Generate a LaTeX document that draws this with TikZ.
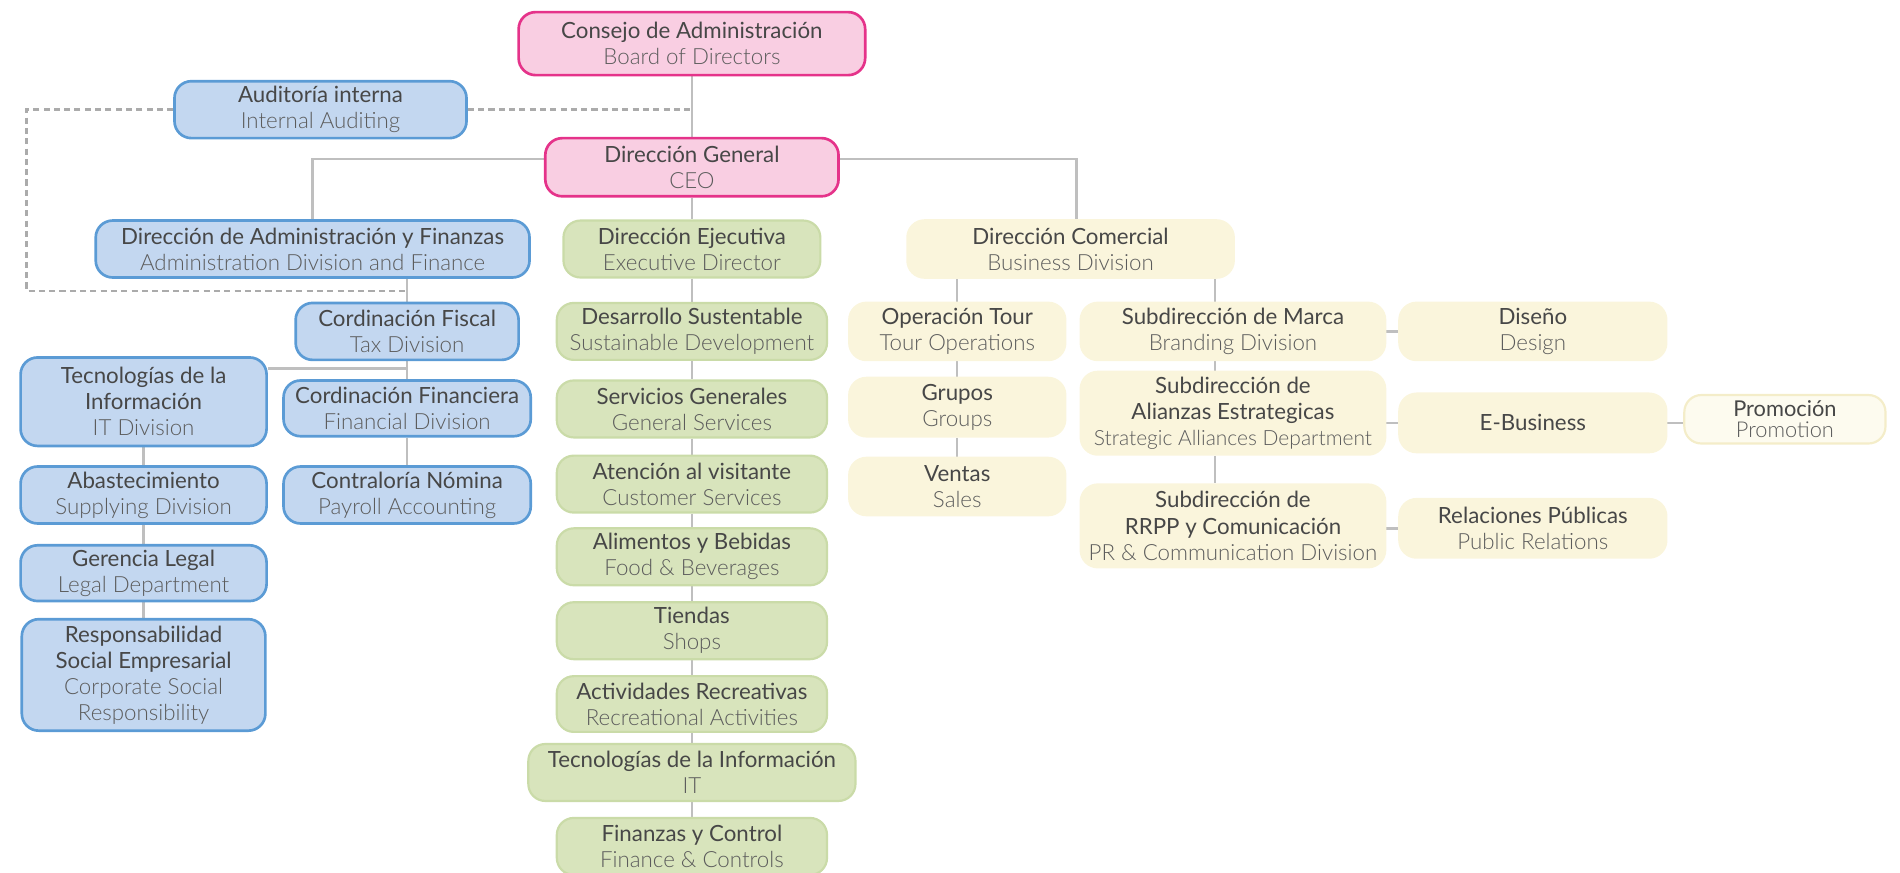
\documentclass[tikz,border=0pt]{standalone}
\usepackage{fontspec}
\setmainfont{Lato}
\newfontfamily\lightfont{Lato Light}
\usetikzlibrary{calc,backgrounds}
\definecolor{pinkfill}{HTML}{F9CEE2}
\definecolor{pinkline}{HTML}{E5338A}
\definecolor{bluefill}{HTML}{C3D7F0}
\definecolor{blueline}{HTML}{5B9BD5}
\definecolor{greenfill}{HTML}{D8E4BC}
\definecolor{greenline}{HTML}{CADBA8}
\definecolor{creamfill}{HTML}{FAF5DC}
\definecolor{promofill}{HTML}{FDFBEF}
\definecolor{promoline}{HTML}{F4EDC9}
\definecolor{connc}{HTML}{BFBFBF}
\definecolor{dashc}{HTML}{ABABAB}
\definecolor{txtone}{HTML}{474747}
\definecolor{txttwo}{HTML}{5C5C5C}
\newcommand\lone[1]{{\color{txtone}#1}}
\newcommand\ltwo[1]{{\lightfont\color{txttwo}#1}}
\newcommand\ltwos[1]{{\lightfont\fontsize{17.3}{21.5}\selectfont\color{txttwo}#1}}
\tikzset{
 box/.style={rounded corners=14pt, inner sep=0pt, align=center, font=\fontsize{18.4}{21.5}\selectfont, line width=2.2pt},
 pinkbox/.style={box, fill=pinkfill, draw=pinkline},
 bluebox/.style={box, fill=bluefill, draw=blueline},
 greenbox/.style={box, fill=greenfill, draw=greenline, line width=1.8pt},
 creambox/.style={box, fill=creamfill, draw=creamfill},
 promobox/.style={box, fill=promofill, draw=promoline, line width=1.8pt, font=\fontsize{18}{17}\selectfont},
 conn/.style={draw=connc, line width=2pt},
 dashline/.style={draw=dashc, line width=2pt, dash pattern=on 5pt off 3.5pt},
}
\begin{document}
\begin{tikzpicture}[x=1pt,y=-1pt]
\useasboundingbox (0,0) rectangle (1568,720);
\clip (0,0) rectangle (1568,720);
% coordinates
\coordinate (dashL) at (22,240);
\coordinate (dashEnd) at (336,240);
\coordinate (techJ) at (336,304);
% nodes
\node[pinkbox, minimum width=286pt, minimum height=52pt] (consejo) at (571,36) {\lone{Consejo de Administración}\\\ltwo{Board of Directors}};
\node[bluebox, minimum width=241pt, minimum height=47pt] (audit) at (264.5,90.5) {\lone{Auditoría interna}\\\ltwo{Internal Auditing}};
\node[pinkbox, minimum width=242pt, minimum height=48pt] (dg) at (571,138) {\lone{Dirección General}\\\ltwo{CEO}};
\node[bluebox, minimum width=358pt, minimum height=47pt] (admin) at (258,205.5) {\lone{Dirección de Administración y Finanzas}\\\ltwo{Administration Division and Finance}};
\node[greenbox, minimum width=212pt, minimum height=47pt] (ejec) at (571,205.5) {\lone{Dirección Ejecutiva}\\\ltwo{Executive Director}};
\node[creambox, minimum width=269pt, minimum height=47pt] (comercial) at (883.5,205.5) {\lone{Dirección Comercial}\\\ltwo{Business Division}};
% blue branch
\node[bluebox, minimum width=184pt, minimum height=47pt] (fiscal) at (336,273.5) {\lone{Cordinación Fiscal}\\\ltwo{Tax Division}};
\node[bluebox, minimum width=204pt, minimum height=46pt] (financiera) at (336,337) {\lone{Cordinación Financiera}\\\ltwo{Financial Division}};
\node[bluebox, minimum width=204pt, minimum height=47pt] (nomina) at (336,408.5) {\lone{Contraloría Nómina}\\\ltwo{Payroll Accounting}};
\node[bluebox, minimum width=203pt, minimum height=73pt] (itb) at (118.5,331.5) {\lone{Tecnologías de la}\\\lone{Información}\\\ltwo{IT Division}};
\node[bluebox, minimum width=203pt, minimum height=47pt] (abast) at (118.5,408.5) {\lone{Abastecimiento}\\\ltwo{Supplying Division}};
\node[bluebox, minimum width=203pt, minimum height=46pt] (legal) at (118.5,473) {\lone{Gerencia Legal}\\\ltwo{Legal Department}};
\node[bluebox, minimum width=201pt, minimum height=92pt] (rse) at (118.5,557) {\lone{Responsabilidad}\\\lone{Social Empresarial}\\\ltwo{Corporate Social}\\\ltwo{Responsibility}};
% green branch
\node[greenbox, minimum width=223pt, minimum height=47pt] (desarrollo) at (571,273.5) {\lone{Desarrollo Sustentable}\\\ltwo{Sustainable Development}};
\node[greenbox, minimum width=223pt, minimum height=47pt] (servicios) at (571,337.5) {\lone{Servicios Generales}\\\ltwo{General Services}};
\node[greenbox, minimum width=223pt, minimum height=47pt] (atencion) at (571,399.5) {\lone{Atención al visitante}\\\ltwo{Customer Services}};
\node[greenbox, minimum width=223pt, minimum height=47pt] (alimentos) at (571,459.5) {\lone{Alimentos y Bebidas}\\\ltwo{Food \& Beverages}};
\node[greenbox, minimum width=223pt, minimum height=47pt] (tiendas) at (571,520.5) {\lone{Tiendas}\\\ltwo{Shops}};
\node[greenbox, minimum width=223pt, minimum height=46pt] (actividades) at (571,581) {\lone{Actividades Recreativas}\\\ltwo{Recreational Activities}};
\node[greenbox, minimum width=270pt, minimum height=47pt] (itg) at (571,637.5) {\lone{Tecnologías de la Información}\\\ltwo{IT}};
\node[greenbox, minimum width=223pt, minimum height=47pt] (finanzas) at (571,698.5) {\lone{Finanzas y Control}\\\ltwo{Finance \& Controls}};
% cream branch
\node[creambox, minimum width=178pt, minimum height=47pt] (optour) at (790,273.5) {\lone{Operación Tour}\\\ltwo{Tour Operations}};
\node[creambox, minimum width=178pt, minimum height=48pt] (grupos) at (790,336) {\lone{Grupos}\\\ltwo{Groups}};
\node[creambox, minimum width=178pt, minimum height=47pt] (ventas) at (790,401.5) {\lone{Ventas}\\\ltwo{Sales}};
\node[creambox, minimum width=251pt, minimum height=47pt] (marca) at (1017.5,273.5) {\lone{Subdirección de Marca}\\\ltwo{Branding Division}};
\node[creambox, minimum width=251pt, minimum height=68pt] (alianzas) at (1017.5,341) {\lone{Subdirección de}\\\lone{Alianzas Estrategicas}\\\ltwos{Strategic Alliances Department}};
\node[creambox, minimum width=251pt, minimum height=68pt] (rrpp) at (1017.5,434) {\lone{Subdirección de}\\\lone{RRPP y Comunicación}\\\ltwo{PR \& Communication Division}};
\node[creambox, minimum width=220pt, minimum height=47pt] (diseno) at (1265,273.5) {\lone{Diseño}\\\ltwo{Design}};
\node[creambox, minimum width=220pt, minimum height=48pt] (ebiz) at (1265,349) {\lone{E-Business}};
\node[creambox, minimum width=220pt, minimum height=48pt] (relaciones) at (1265,436) {\lone{Relaciones Públicas}\\\ltwo{Public Relations}};
\node[promobox, minimum width=166pt, minimum height=40pt] (promo) at (1473,346) {\lone{Promoción}\\\ltwo{Promotion}};
% connectors
\begin{scope}[on background layer]
\draw[conn] (consejo.south) -- (dg.north);
\draw[conn] (admin.north) |- ([yshift=7pt]dg.west);
\draw[conn] ([xshift=5pt]comercial.north) |- ([yshift=7pt]dg.east);
\draw[conn] (dg.south) -- (ejec.north);
\draw[conn] (ejec.south) -- (desarrollo.north);
\draw[conn] (desarrollo.south) -- (servicios.north);
\draw[conn] (servicios.south) -- (atencion.north);
\draw[conn] (atencion.south) -- (alimentos.north);
\draw[conn] (alimentos.south) -- (tiendas.north);
\draw[conn] (tiendas.south) -- (actividades.north);
\draw[conn] (actividades.south) -- (itg.north);
\draw[conn] (itg.south) -- (finanzas.north);
\draw[conn] (fiscal.north) -- (fiscal.north |- admin.south);
\draw[conn] (fiscal.south) -- (financiera.north);
\draw[conn] (financiera.south) -- (nomina.north);
\draw[conn] (techJ) -- (techJ -| itb.east);
\draw[conn] (itb.south) -- (abast.north);
\draw[conn] (abast.south) -- (legal.north);
\draw[conn] (legal.south) -- (rse.north);
\draw[conn] (optour.north) -- (optour.north |- comercial.south);
\draw[conn] (optour.south) -- (grupos.north);
\draw[conn] (grupos.south) -- (ventas.north);
\draw[conn] ([xshift=-15pt]marca.north) -- ([xshift=-15pt]marca.north |- comercial.south);
\draw[conn] ([xshift=-15pt]marca.south) -- ([xshift=-15pt]alianzas.north);
\draw[conn] ([xshift=-15pt]alianzas.south) -- ([xshift=-15pt]rrpp.north);
\draw[conn] (marca.east) -- (diseno.west);
\draw[conn] (ebiz.west) -- (ebiz.west -| alianzas.east);
\draw[conn] (ebiz.east) -- (ebiz.east -| promo.west);
\draw[conn] (relaciones.west) -- (relaciones.west -| rrpp.east);
\draw[dashline] (audit.west) -| (dashL) -- (dashEnd);
\draw[dashline] (audit.east) -- (audit.east -| consejo.south);
\end{scope}
\end{tikzpicture}
\end{document}
